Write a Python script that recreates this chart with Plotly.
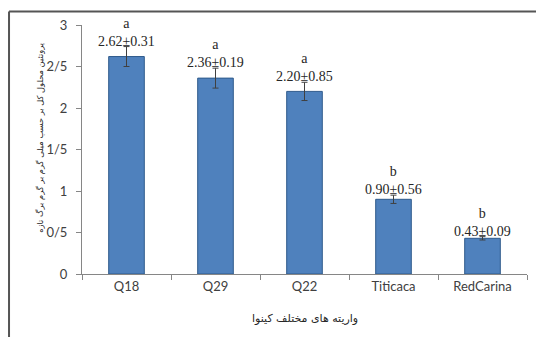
import plotly.graph_objects as go

# Quinoa varieties and total soluble protein (mg/g fresh leaf)
varieties = ["Q18", "Q29", "Q22", "Titicaca", "RedCarina"]
protein_mean = [2.62, 2.36, 2.20, 0.90, 0.43]
protein_sd = [0.31, 0.19, 0.85, 0.56, 0.09]
bar_error = [0.12, 0.12, 0.11, 0.05, 0.02]
groups = ["a", "a", "a", "b", "b"]

y_tickvals = [0, 0.5, 1, 1.5, 2, 2.5, 3]
y_ticktext = ["0", "0/5", "1", "1/5", "2", "2/5", "3"]

y_title = "پروتئین محلول کل بر حسب میلی گرم بر گرم برگ تازه"
x_title = "واریته های مختلف کینوا"

fig = go.Figure()
fig.add_trace(go.Bar(
    x=varieties,
    y=protein_mean,
    marker=dict(color="#4f81bd", line=dict(color="#2f5a8c", width=1)),
    error_y=dict(type="data", array=bar_error, visible=True,
                 color="#404040", thickness=1, width=3),
    showlegend=False,
))

# Group letter and mean ± SD above each bar
for v, m, sd, e, g in zip(varieties, protein_mean, protein_sd, bar_error, groups):
    fig.add_annotation(
        x=v, y=m + e, xref="x", yref="y",
        text=f"{g}<br>{m:.2f}±{sd:.2f}",
        showarrow=False, yanchor="bottom", yshift=-4,
        font=dict(family="Liberation Serif", size=14, color="#262626"),
    )

# Axis titles
fig.add_annotation(
    x=-0.095, y=0.55, xref="paper", yref="paper",
    xanchor="center", yanchor="middle",
    text=y_title, textangle=-90, showarrow=False,
    font=dict(family="DejaVu Sans", size=8.3, color="#262626"),
)
fig.add_annotation(
    x=0.5, y=-0.177, xref="paper", yref="paper",
    xanchor="center", yanchor="middle",
    text=x_title, showarrow=False,
    font=dict(family="DejaVu Sans", size=11, color="#262626"),
)

# Frame lines along the top and left edge
fig.add_shape(type="line", xref="paper", yref="paper",
              x0=-0.164, x1=1.03, y0=1.054, y1=1.054,
              line=dict(color="#555555", width=2))
fig.add_shape(type="line", xref="paper", yref="paper",
              x0=-0.164, x1=-0.164, y0=1.054, y1=-0.27,
              line=dict(color="#555555", width=2))

fig.update_layout(
    width=536, height=337,
    margin=dict(l=82, r=9, t=25, b=63),
    paper_bgcolor="white", plot_bgcolor="white",
    bargap=0.6,
    font=dict(family="Lato", color="#404040"),
)
fig.update_xaxes(
    showline=True, linecolor="#868686", linewidth=1,
    ticks="outside", tickson="boundaries", ticklen=5, tickcolor="#868686",
    tickfont=dict(family="Lato", size=13, color="#404040"),
    showgrid=False, range=[-0.5, 4.5],
)
fig.update_yaxes(
    range=[0, 3], tickvals=y_tickvals, ticktext=y_ticktext,
    showline=True, linecolor="#868686", linewidth=1,
    ticks="outside", ticklen=5, tickcolor="#868686",
    tickfont=dict(family="Lato", size=13, color="#404040"),
    showgrid=False, zeroline=False, ticklabelstandoff=6,
)

fig.write_html("out.html")
